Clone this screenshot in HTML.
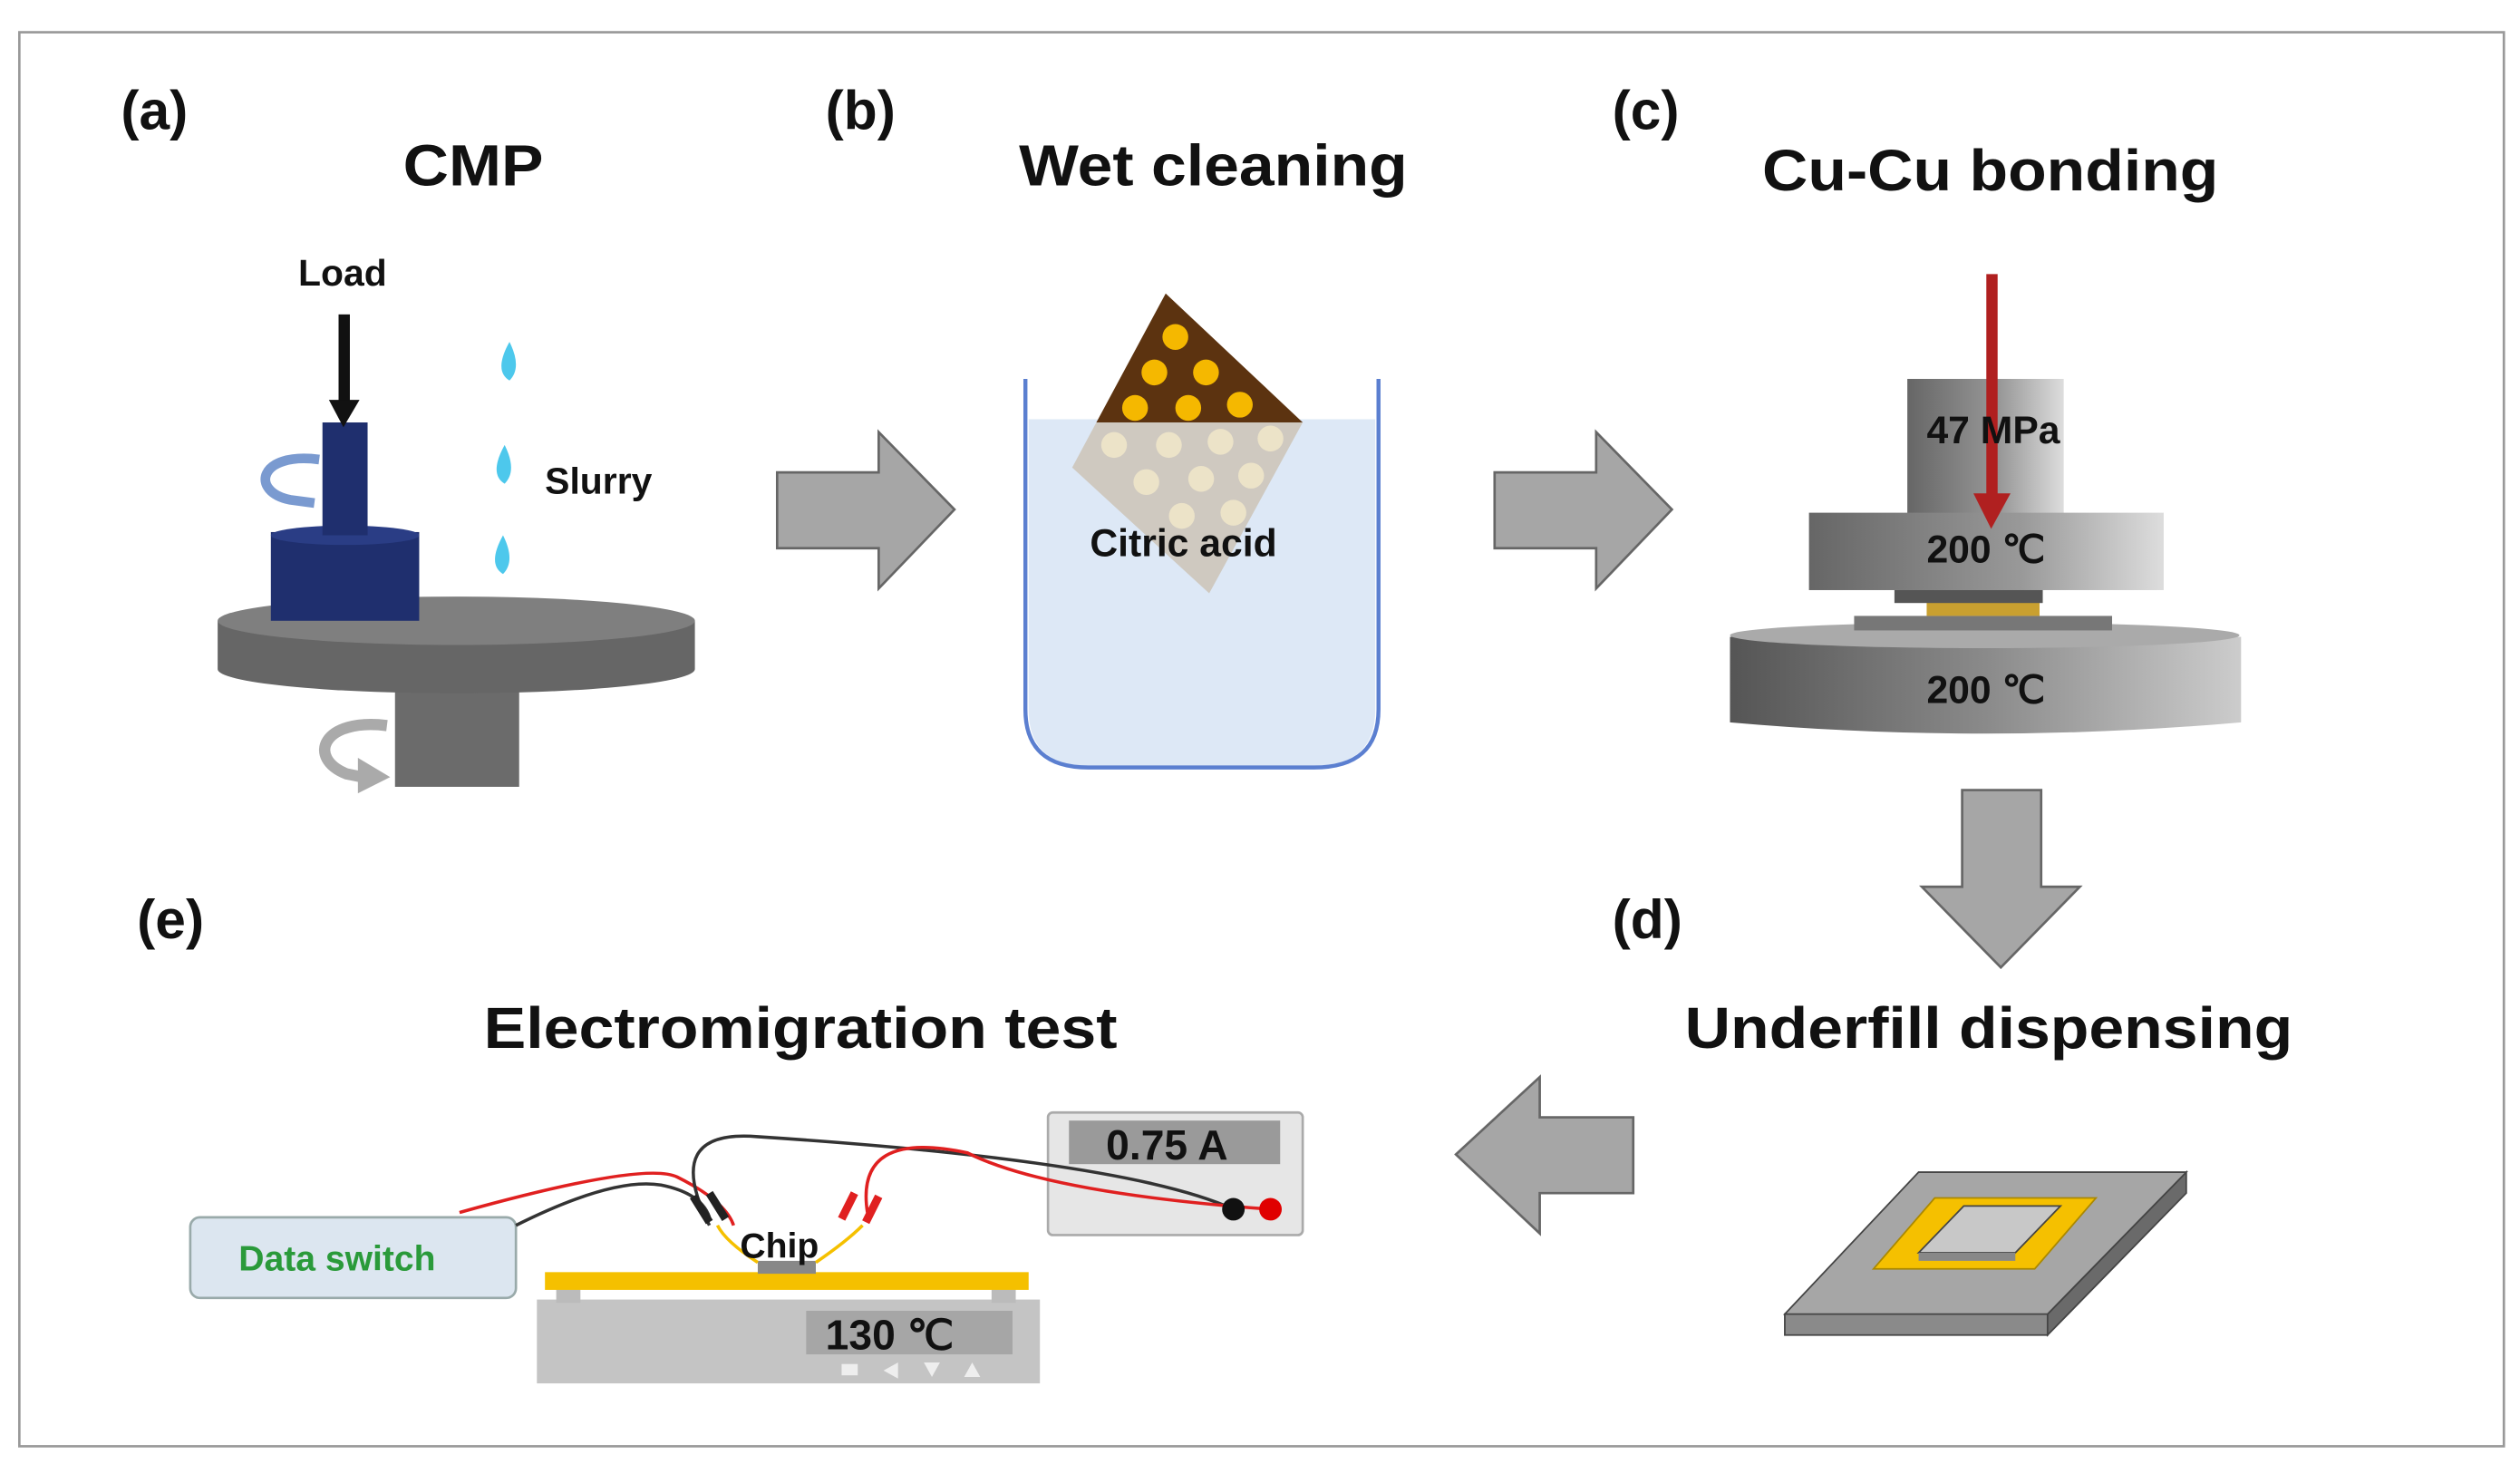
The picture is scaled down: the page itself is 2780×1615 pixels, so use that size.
<!DOCTYPE html>
<html><head><meta charset="utf-8"><style>html,body{margin:0;padding:0;background:#fff}svg{display:block}text{font-family:"Liberation Sans",Arial,sans-serif;font-weight:bold;fill:#111}</style></head><body>
<svg width="2780" height="1615" viewBox="0 0 1563 908" preserveAspectRatio="none" xmlns="http://www.w3.org/2000/svg">
<defs>
<linearGradient id="g1" x1="0" x2="1"><stop offset="0" stop-color="#666"/><stop offset="0.6" stop-color="#999"/><stop offset="1" stop-color="#ddd"/></linearGradient>
<linearGradient id="g2" x1="0" x2="1"><stop offset="0" stop-color="#555"/><stop offset="0.5" stop-color="#8a8a8a"/><stop offset="1" stop-color="#ccc"/></linearGradient>
</defs>
<rect x="12" y="20" width="1541" height="877" fill="#fff" stroke="#999" stroke-width="1.5"/>
<g font-size="34"><text x="75" y="80">(a)</text><text x="512" y="80">(b)</text><text x="1000" y="80">(c)</text><text x="85" y="582">(e)</text><text x="1000" y="582">(d)</text></g>
<g font-size="36"><text x="250" y="115" textLength="87" lengthAdjust="spacingAndGlyphs">CMP</text><text x="632" y="115" textLength="241" lengthAdjust="spacingAndGlyphs">Wet cleaning</text><text x="1093" y="118" textLength="283" lengthAdjust="spacingAndGlyphs">Cu-Cu bonding</text><text x="300" y="650" textLength="393" lengthAdjust="spacingAndGlyphs">Electromigration test</text><text x="1045" y="650" textLength="377" lengthAdjust="spacingAndGlyphs">Underfill dispensing</text></g>
<!-- CMP -->
<rect x="245" y="410" width="77" height="78" fill="#6b6b6b"/>
<path d="M240 450 C200 445 190 470 215 480 L225 482" fill="none" stroke="#aaa" stroke-width="7"/>
<polygon points="222,470 242,482 222,492" fill="#aaa"/>
<path d="M135 385 L135 415 A148 15 0 0 0 431 415 L431 385 Z" fill="#666"/>
<ellipse cx="283" cy="385" rx="148" ry="15" fill="#7f7f7f"/>
<rect x="168" y="330" width="92" height="55" fill="#1f2f6e"/>
<ellipse cx="214" cy="332" rx="46" ry="6" fill="#2a3d85"/>
<rect x="200" y="262" width="28" height="70" fill="#1f2f6e"/>
<path d="M198 285 C160 280 155 305 180 310 L195 312" fill="none" stroke="#7a9ad0" stroke-width="6"/>
<rect x="210" y="195" width="7" height="55" fill="#111"/><polygon points="204,248 223,248 213,265" fill="#111"/>
<text x="185" y="177" font-size="23">Load</text>
<g fill="#4dc8ec"><path d="M316 212 Q324 228 316 236 Q306 230 316 212Z"/><path d="M313 276 Q321 292 313 300 Q303 294 313 276Z"/><path d="M312 332 Q320 348 312 356 Q302 350 312 332Z"/></g>
<text x="338" y="306" font-size="23">Slurry</text>
<!-- arrows -->
<g fill="#a6a6a6" stroke="#666" stroke-width="1.5">
<polygon points="482,293 545,293 545,268 592,316 545,365 545,340 482,340"/>
<polygon points="927,293 990,293 990,268 1037,316 990,365 990,340 927,340"/>
<polygon points="1217,490 1266,490 1266,550 1290,550 1241,600 1192,550 1217,550"/>
<polygon points="1013,693 955,693 955,668 903,716 955,765 955,740 1013,740"/>
</g>
<!-- beaker -->
<path d="M638 260 L638 440 Q638 475 675 475 L815 475 Q853 475 853 440 L853 260 Z" fill="#dde8f6"/>
<polygon points="723,182 808,262 680,262" fill="#5c3310"/>
<polygon points="680,262 808,262 750,368 665,290" fill="#c9bfae" opacity="0.75"/>
<g fill="#f5b800"><circle cx="729" cy="209" r="8"/><circle cx="716" cy="231" r="8"/><circle cx="748" cy="231" r="8"/><circle cx="704" cy="253" r="8"/><circle cx="737" cy="253" r="8"/><circle cx="769" cy="251" r="8"/></g>
<g fill="#ece3c8"><circle cx="691" cy="276" r="8"/><circle cx="725" cy="276" r="8"/><circle cx="757" cy="274" r="8"/><circle cx="788" cy="272" r="8"/><circle cx="711" cy="299" r="8"/><circle cx="745" cy="297" r="8"/><circle cx="776" cy="295" r="8"/><circle cx="733" cy="320" r="8"/><circle cx="765" cy="318" r="8"/></g>
<path d="M636 235 L636 440 Q636 476 675 476 L815 476 Q855 476 855 440 L855 235" fill="none" stroke="#5b7fd0" stroke-width="2.5"/>
<text x="676" y="345" font-size="24">Citric acid</text>
<!-- bonding -->
<path d="M1073 395 L1073 448 Q1231 462 1390 448 L1390 395 Z" fill="url(#g2)"/>
<ellipse cx="1231" cy="394" rx="158" ry="8" fill="#aaa"/>
<rect x="1150" y="382" width="160" height="9" fill="#777"/>
<rect x="1195" y="373" width="70" height="9" fill="#c9a030"/>
<rect x="1183" y="235" width="97" height="85" fill="url(#g1)"/>
<rect x="1122" y="318" width="220" height="48" fill="url(#g1)"/>
<rect x="1175" y="366" width="92" height="8" fill="#555"/>
<rect x="1232" y="170" width="7" height="140" fill="#b02020"/><polygon points="1224,306 1247,306 1235,328" fill="#b02020"/>
<g font-size="24"><text x="1195" y="275">47 MPa</text><text x="1195" y="349">200 ℃</text><text x="1195" y="436">200 ℃</text></g>
<!-- underfill -->
<polygon points="1107,815 1270,815 1270,828 1107,828" fill="#8a8a8a" stroke="#444"/>
<polygon points="1270,815 1356,727 1356,740 1270,828" fill="#6a6a6a" stroke="#444"/>
<polygon points="1107,815 1190,727 1356,727 1270,815" fill="#a6a6a6" stroke="#444"/>
<polygon points="1162,787 1200,743 1300,743 1262,787" fill="#f5c000" stroke="#aa8800"/>
<polygon points="1190,777 1218,748 1278,748 1250,777" fill="#c8c8c8" stroke="#444"/>
<polygon points="1190,777 1250,777 1250,782 1190,782" fill="#888"/>
<!-- EM test -->
<rect x="333" y="806" width="312" height="52" fill="#c4c4c4"/>
<rect x="345" y="798" width="15" height="10" fill="#bbb"/><rect x="615" y="798" width="15" height="10" fill="#bbb"/>
<rect x="338" y="789" width="300" height="11" fill="#f5c000"/>
<rect x="500" y="813" width="128" height="27" fill="#a6a6a6"/>
<text x="512" y="837" font-size="26">130 ℃</text>
<g fill="#eee"><rect x="522" y="846" width="10" height="7"/><polygon points="548,850 557,845 557,855"/><polygon points="573,845 583,845 578,854"/><polygon points="598,854 608,854 603,845"/></g>
<rect x="470" y="782" width="36" height="8" fill="#888"/>
<rect x="118" y="755" width="202" height="50" rx="6" fill="#dce6f0" stroke="#9aa" stroke-width="1.5"/>
<text x="148" y="788" font-size="22" style="fill:#2a9a3a">Data switch</text>
<rect x="650" y="690" width="158" height="76" rx="3" fill="#e6e6e6" stroke="#aaa" stroke-width="1.5"/>
<rect x="663" y="695" width="131" height="27" fill="#9a9a9a"/>
<text x="686" y="719" font-size="26">0.75 A</text>
<g fill="none" stroke-width="2">
<path d="M285 752 Q400 720 420 730 Q450 745 455 760" stroke="#e02020"/>
<path d="M320 760 Q380 730 410 735 Q435 740 440 755" stroke="#333"/>
<path d="M440 760 Q410 700 470 705 Q700 720 765 750" stroke="#333"/>
<path d="M538 752 Q530 700 600 715 Q650 740 788 750" stroke="#e02020"/>
<path d="M470 783 Q450 770 445 760" stroke="#f5c000"/><path d="M506 783 Q525 770 535 760" stroke="#f5c000"/>
</g>
<g stroke-width="5"><line x1="430" y1="742" x2="440" y2="758" stroke="#222"/><line x1="440" y1="740" x2="450" y2="756" stroke="#222"/><line x1="530" y1="740" x2="522" y2="756" stroke="#e02020"/><line x1="545" y1="742" x2="537" y2="758" stroke="#e02020"/></g>
<text x="459" y="780" font-size="22">Chip</text>
<circle cx="765" cy="750" r="7" fill="#111"/><circle cx="788" cy="750" r="7" fill="#e00000"/>
</svg>
</body></html>
